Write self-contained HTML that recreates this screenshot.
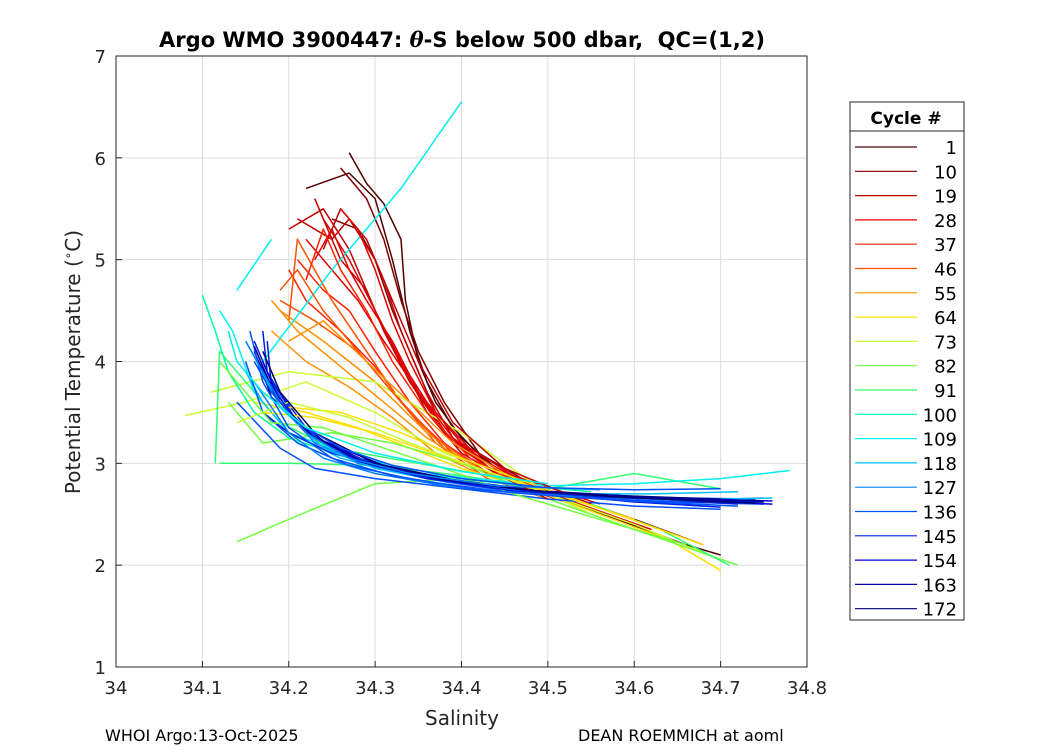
<!DOCTYPE html>
<html><head><meta charset="utf-8"><style>
body{margin:0;background:#fff}
svg{display:block;font-family:"DejaVu Sans","Liberation Sans",sans-serif}
</style></head><body>
<svg id="chart" width="1050" height="750" viewBox="0 0 1050 750">
<rect width="1050" height="750" fill="#fff"/>
<g id="grid"></g>
<g id="lines"></g>
<rect x="116" y="56" width="691" height="611" fill="none" stroke="#262626" stroke-width="1"/>
<g id="axes"></g>
<text x="462" y="47" text-anchor="middle" font-size="21" font-weight="bold" fill="#000" style="white-space:pre">Argo WMO 3900447: <tspan font-family="DejaVu Serif" font-style="italic">θ</tspan>-S below 500 dbar,  QC=(1,2)</text>
<text x="462" y="725" text-anchor="middle" font-size="20" fill="#262626">Salinity</text>
<text transform="translate(80,362) rotate(-90)" text-anchor="middle" font-size="20" fill="#262626">Potential Temperature (<tspan font-size="12" dy="-8">∘</tspan><tspan dy="8">C)</tspan></text>
<text x="105" y="741" font-size="16" fill="#000">WHOI Argo:13-Oct-2025</text>
<text x="578" y="741" font-size="16" fill="#000">DEAN ROEMMICH at aoml</text>
<g id="legend">
<rect x="850" y="102" width="114" height="518" fill="#fff" stroke="#262626"/>
<line x1="850" y1="131" x2="964" y2="131" stroke="#262626"/>
<text x="906" y="124" text-anchor="middle" font-size="17" font-weight="bold">Cycle #</text>
</g>
</svg>
<script>
const xTicks=[34,34.1,34.2,34.3,34.4,34.5,34.6,34.7,34.8];
const xTickLabels=["34","34.1","34.2","34.3","34.4","34.5","34.6","34.7","34.8"];
const yTicks=[1,2,3,4,5,6,7];
const yTickLabels=["1","2","3","4","5","6","7"];
const cycleLabels=["1","10","19","28","37","46","55","64","73","82","91","100","109","118","127","136","145","154","163","172"];
const cycleColors=["#500000","#800000","#c00000","#e00000","#ff2000","#ff5000","#ff9000","#ffe000","#c8ff30","#70ff40","#30ff70","#00ffa0","#00f0f0","#00c0ff","#0080ff","#0050ff","#0020e0","#0000d0","#0000a0","#000070"];
const profCycle=[0,0,1,1,2,2,3,3,4,4,5,5,6,6,7,8,8,9,9,10,10,11,12,12,12,13,14,14,15,15,16,16,17,17,18,19,15,16,
 2,2,3,3,4,5,6,6,7,7,8,9,13,14,15,16,17,18,19,14,15,12];
const profSal=[
[34.27,34.29,34.31,34.33,34.335,34.35,34.37,34.40,34.44,34.50,34.58,34.66,34.70],
[34.22,34.27,34.30,34.32,34.34,34.36,34.39,34.43,34.5],
[34.25,34.28,34.30,34.32,34.345,34.37,34.41,34.46,34.55],
[34.26,34.29,34.31,34.33,34.35,34.38,34.42,34.48,34.6,34.68],
[34.20,34.24,34.27,34.30,34.33,34.36,34.40,34.45,34.55],
[34.23,34.26,34.29,34.31,34.34,34.38,34.44,34.52],
[34.22,34.25,34.28,34.31,34.35,34.39,34.45,34.52,34.62],
[34.24,34.27,34.30,34.33,34.36,34.40,34.46,34.56],
[34.21,34.24,34.27,34.30,34.34,34.38,34.44,34.52],
[34.20,34.22,34.26,34.30,34.34,34.39,34.45],
[34.20,34.21,34.25,34.29,34.33,34.37,34.43,34.5],
[34.19,34.23,34.28,34.33,34.38,34.44,34.5],
[34.18,34.22,34.27,34.32,34.37,34.42,34.48],
[34.19,34.24,34.30,34.36,34.42,34.48],
[34.16,34.22,34.28,34.34,34.40,34.48,34.56,34.64,34.70],
[34.08,34.15,34.22,34.30,34.38,34.45,34.55],
[34.11,34.2,34.3,34.4,34.5,34.6,34.7],
[34.13,34.17,34.25,34.32,34.4,34.5,34.6,34.72],
[34.14,34.2,34.3,34.4,34.45],
[34.115,34.12,34.15,34.19,34.25,34.35,34.45,34.55,34.63,34.71],
[34.12,34.2,34.3,34.35,34.4,34.5,34.6,34.7],
[34.1,34.115,34.13,34.16,34.2,34.27,34.35,34.45,34.55],
[34.17,34.25,34.33,34.40],
[34.12,34.135,34.16,34.2,34.28,34.38,34.5,34.6,34.7,34.78],
[34.14,34.18],
[34.15,34.17,34.2,34.26,34.33,34.42,34.52,34.62,34.72],
[34.16,34.18,34.22,34.28,34.36,34.46,34.56,34.66,34.74],
[34.17,34.19,34.23,34.29,34.37,34.47,34.57,34.67,34.75],
[34.15,34.17,34.21,34.27,34.35,34.45,34.55,34.65,34.75],
[34.14,34.19,34.23,34.3,34.4,34.5,34.6,34.7],
[34.16,34.18,34.22,34.28,34.36,34.46,34.56,34.66,34.74],
[34.17,34.175,34.21,34.26,34.34,34.44,34.54,34.64,34.72],
[34.165,34.19,34.23,34.3,34.38,34.48,34.58,34.68,34.76],
[34.16,34.18,34.22,34.29,34.37,34.47,34.57,34.67,34.73],
[34.17,34.19,34.24,34.31,34.39,34.49,34.59,34.69,34.75],
[34.165,34.18,34.22,34.28,34.36,34.46,34.56,34.66,34.74],
[34.18,34.2,34.24,34.3,34.38,34.48,34.58,34.68],
[34.17,34.2,34.25,34.32,34.4,34.5,34.6,34.7],
[34.24,34.26,34.29,34.31,34.33,34.36,34.39,34.44,34.5],
[34.21,34.25,34.27,34.30,34.32,34.35,34.39,34.45,34.55],
[34.23,34.25,34.27,34.29,34.32,34.35,34.39,34.45],
[34.26,34.28,34.30,34.32,34.34,34.37,34.42,34.5],
[34.22,34.24,34.26,34.29,34.32,34.36,34.41,34.47],
[34.19,34.21,34.24,34.28,34.32,34.37,34.43],
[34.20,34.24,34.29,34.34,34.39,34.45],
[34.18,34.21,34.26,34.31,34.36,34.42,34.5],
[34.17,34.23,34.3,34.36,34.42,34.5,34.6],
[34.2,34.26,34.33,34.4,34.48,34.58,34.68],
[34.14,34.2,34.27,34.34,34.42,34.5],
[34.12,34.18,34.24,34.31,34.38,34.46,34.56,34.66],
[34.16,34.19,34.24,34.3,34.38,34.48,34.58,34.68,34.76],
[34.16,34.2,34.24,34.3,34.38,34.48,34.58,34.68,34.74],
[34.155,34.17,34.2,34.25,34.32,34.42,34.52,34.62,34.72],
[34.175,34.18,34.22,34.28,34.36,34.46,34.56,34.66,34.74],
[34.17,34.19,34.23,34.29,34.37,34.47,34.57,34.67,34.76],
[34.16,34.185,34.225,34.29,34.37,34.47,34.57,34.67,34.75],
[34.17,34.19,34.23,34.3,34.38,34.48,34.58,34.68,34.74],
[34.15,34.17,34.19,34.22,34.27,34.34,34.44,34.56],
[34.16,34.18,34.21,34.26,34.32,34.4,34.5,34.6,34.7],
[34.13,34.14,34.17,34.22,34.3,34.4,34.5]];
const profTemp=[
[6.05,5.75,5.55,5.2,4.6,4.0,3.6,3.25,2.95,2.7,2.45,2.2,2.1],
[5.7,5.85,5.6,5.0,4.3,3.8,3.35,3.0,2.7],
[5.4,5.3,5.0,4.5,4.0,3.5,3.1,2.85,2.6],
[5.9,5.6,5.2,4.6,4.1,3.6,3.1,2.8,2.45,2.2],
[5.3,5.5,5.1,4.5,4.0,3.5,3.1,2.85,2.55],
[5.6,5.0,4.7,4.3,3.8,3.3,2.9,2.65],
[5.2,4.9,4.6,4.2,3.7,3.2,2.85,2.65,2.35],
[5.4,5.0,4.5,4.0,3.6,3.2,2.88,2.6],
[5.0,4.7,4.5,4.1,3.6,3.2,2.85,2.62],
[4.9,4.6,4.3,3.95,3.5,3.1,2.82],
[4.4,5.2,4.6,4.1,3.6,3.2,2.85,2.65],
[4.6,4.4,4.1,3.6,3.15,2.85,2.65],
[4.3,4.0,3.75,3.45,3.1,2.9,2.75],
[4.5,4.2,3.8,3.3,2.95,2.7],
[3.6,3.5,3.35,3.15,2.95,2.75,2.5,2.25,1.95],
[3.47,3.6,3.8,3.5,3.1,2.9,2.5],
[3.7,3.9,3.8,3.3,2.7,2.4,2.05],
[3.6,3.2,3.3,3.2,3.0,2.65,2.35,2.0],
[2.23,2.45,2.8,2.85,2.75],
[3.0,4.1,3.8,3.4,3.15,3.0,2.85,2.6,2.35,2.0],
[3.0,3.0,2.98,2.93,2.88,2.75,2.9,2.75],
[4.65,4.3,3.9,3.5,3.25,3.05,2.9,2.8,2.72],
[4.0,4.9,5.7,6.55],
[4.5,4.3,3.7,3.3,3.05,2.88,2.78,2.8,2.85,2.93],
[4.7,5.2],
[3.9,3.6,3.3,3.05,2.9,2.78,2.7,2.7,2.72],
[4.1,3.7,3.3,3.0,2.85,2.74,2.68,2.66,2.65],
[4.0,3.6,3.2,2.98,2.84,2.73,2.67,2.64,2.66],
[4.0,3.5,3.2,2.98,2.83,2.72,2.66,2.62,2.6],
[3.6,3.15,2.95,2.85,2.75,2.65,2.58,2.55],
[4.2,3.8,3.35,3.05,2.87,2.75,2.68,2.65,2.62],
[4.3,3.9,3.4,3.1,2.9,2.77,2.69,2.64,2.6],
[4.0,3.6,3.25,2.98,2.83,2.72,2.67,2.63,2.6],
[4.1,3.7,3.3,3.02,2.86,2.74,2.68,2.65,2.62],
[3.9,3.55,3.22,2.98,2.84,2.73,2.68,2.64,2.62],
[4.0,3.65,3.3,3.03,2.86,2.74,2.69,2.66,2.64],
[3.8,3.5,3.2,2.98,2.82,2.7,2.64,2.58],
[3.5,3.3,3.1,2.95,2.8,2.7,2.62,2.57],
[5.1,5.5,5.2,4.8,4.3,3.7,3.25,2.9,2.65],
[5.4,5.2,5.4,5.0,4.6,4.0,3.4,2.95,2.6],
[5.0,5.3,4.9,4.6,4.2,3.7,3.25,2.88],
[5.5,5.3,4.9,4.4,4.0,3.5,3.05,2.7],
[4.8,5.3,4.9,4.5,4.0,3.5,3.05,2.8],
[4.7,4.9,4.5,4.1,3.7,3.25,2.9],
[4.2,4.4,4.0,3.6,3.2,2.9],
[4.6,4.3,3.95,3.6,3.25,2.95,2.7],
[3.5,3.45,3.3,3.12,2.95,2.72,2.45],
[3.55,3.5,3.3,3.05,2.8,2.5,2.2],
[3.4,3.6,3.45,3.2,2.95,2.7],
[4.0,3.4,3.35,3.15,2.95,2.7,2.45,2.2],
[4.05,3.55,3.15,2.95,2.82,2.72,2.66,2.64,2.66],
[3.8,3.3,3.05,2.9,2.78,2.7,2.66,2.63,2.62],
[4.3,3.8,3.35,3.05,2.88,2.74,2.67,2.62,2.58],
[4.2,3.75,3.3,3.02,2.85,2.73,2.67,2.64,2.62],
[4.0,3.6,3.25,3.0,2.85,2.74,2.68,2.65,2.63],
[4.15,3.65,3.28,3.0,2.85,2.74,2.68,2.65,2.63],
[4.1,3.7,3.3,3.0,2.85,2.73,2.67,2.63,2.61],
[4.2,3.9,3.6,3.3,3.05,2.9,2.78,2.74],
[4.0,3.7,3.4,3.15,2.98,2.85,2.76,2.74,2.75],
[4.3,4.0,3.7,3.35,3.1,2.92,2.8]];

const NS="http://www.w3.org/2000/svg";
const X0=116,X1=807,Y0=667,Y1=56;
function sx(s){return X0+(s-34)/0.8*(X1-X0);}
function ty(t){return Y0-(t-1)/6*(Y0-Y1);}
function mk(tag,attrs,parent){const e=document.createElementNS(NS,tag);for(const k in attrs)e.setAttribute(k,attrs[k]);parent.appendChild(e);return e;}
const grid=document.getElementById('grid'),axes=document.getElementById('axes'),lines=document.getElementById('lines'),legend=document.getElementById('legend');
xTicks.forEach((v,i)=>{
 const x=sx(v);
 const g=mk('line',{x1:x,x2:x,y1:Y1,y2:Y0,stroke:'#dcdcdc','stroke-width':1},grid);
 
 
 const t=mk('line',{x1:x,x2:x,y1:Y0,y2:Y0-6,stroke:'#262626'},axes);
 
 
 const l=mk('text',{x:x,y:Y0+27,'text-anchor':'middle','font-size':18,fill:'#262626'},axes);
 l.textContent=xTickLabels[i];
 
 
});
yTicks.forEach((v,i)=>{
 const y=ty(v);
 const g=mk('line',{x1:X0,x2:X1,y1:y,y2:y,stroke:'#dcdcdc','stroke-width':1},grid);
 
 
 const t=mk('line',{x1:X0,x2:X0+6,y1:y,y2:y,stroke:'#262626'},axes);
 
 
 const l=mk('text',{x:X0-10,y:y+7,'text-anchor':'end','font-size':18,fill:'#262626'},axes);
 l.textContent=yTickLabels[i];
 
 
});
profSal.forEach((s,i)=>{
 const pts=s.map((v,j)=>sx(v).toFixed(1)+','+ty(profTemp[i][j]).toFixed(1)).join(' ');
 const p=mk('polyline',{points:pts,fill:'none',stroke:cycleColors[profCycle[i]],'stroke-width':1.5,'stroke-linejoin':'round'},lines);
 
 
});
cycleLabels.forEach((c,i)=>{
 const y=147+i*24.3;
 const l=mk('line',{x1:855,x2:917,y1:y,y2:y,stroke:cycleColors[i],'stroke-width':1.2},legend);
 
 
 const t=mk('text',{x:957,y:y+7,'text-anchor':'end','font-size':18,fill:'#000'},legend);
 t.textContent=c;
 
 
});
</script>
</body></html>
